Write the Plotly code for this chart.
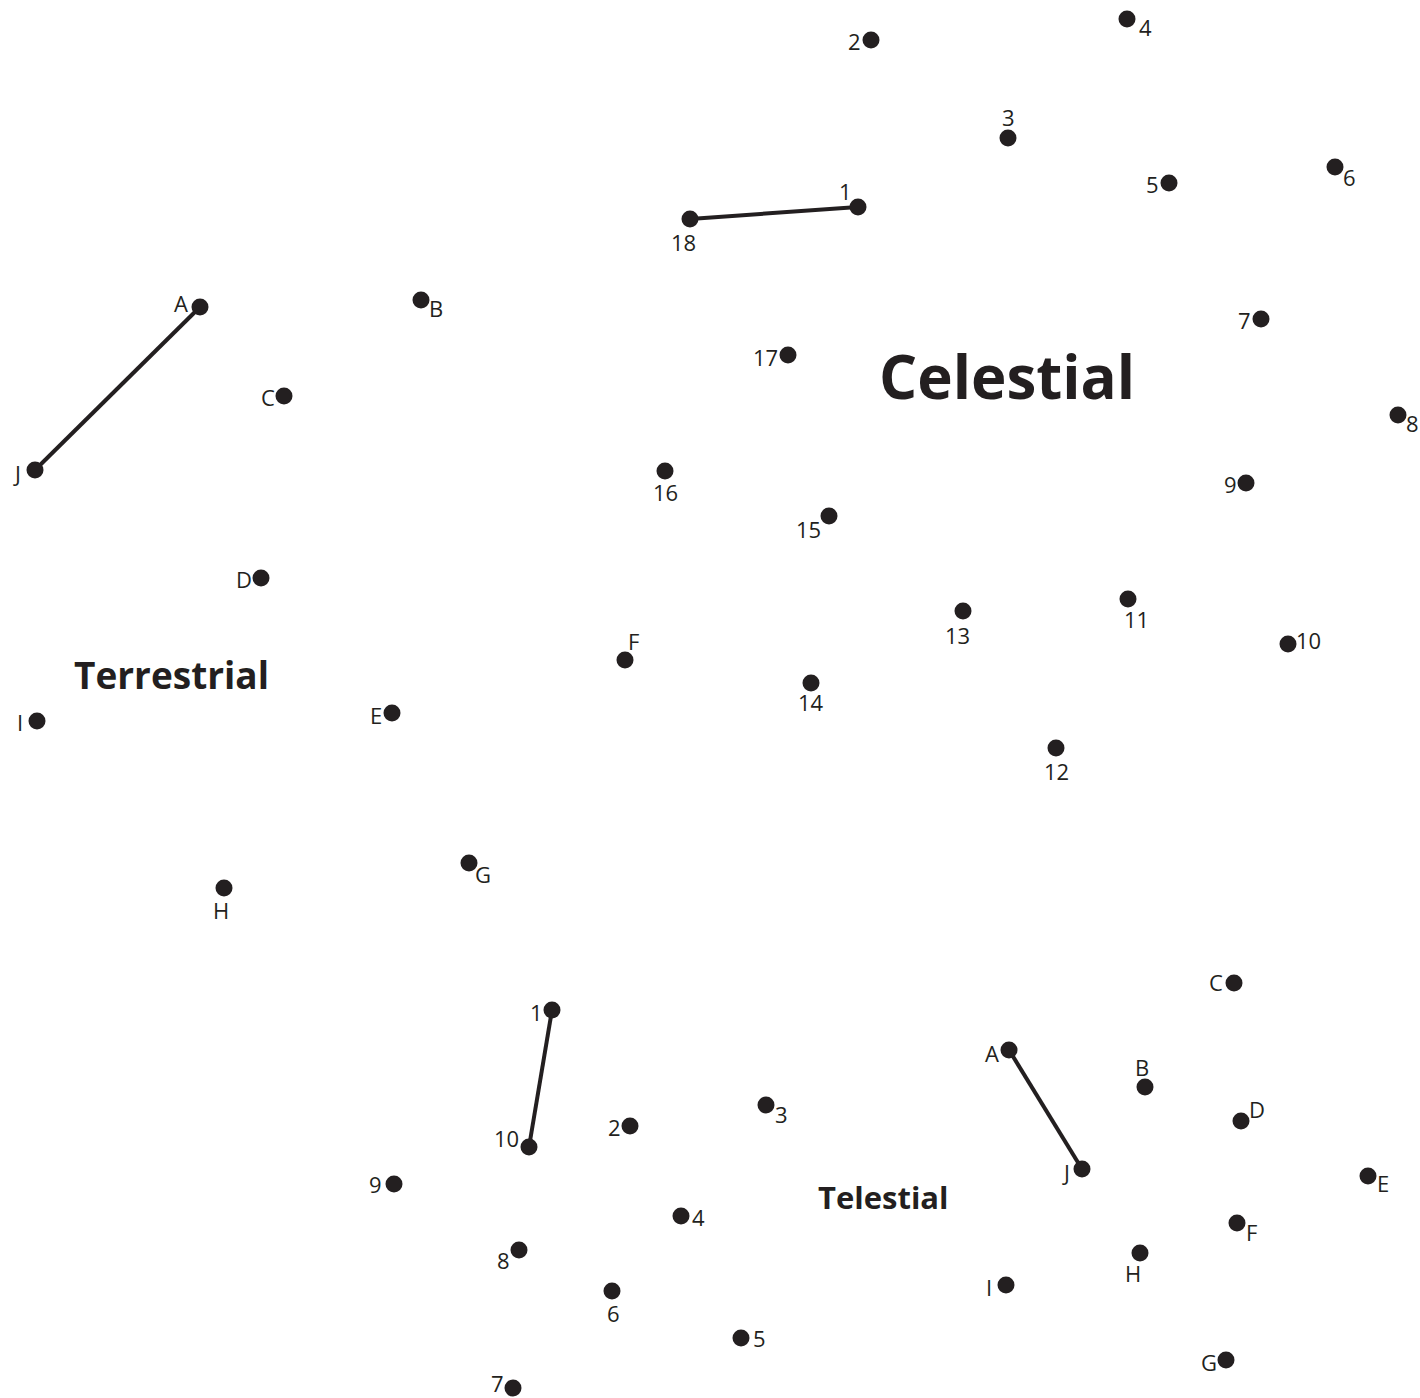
import plotly.graph_objects as go

INK = "#231f20"
FONT = "Open Sans"

# Celestial (numbered dots 1..18)
cel_labels = [str(i) for i in range(1, 19)]
cel_x = [858, 871, 1008, 1127, 1169, 1335, 1261, 1398, 1246, 1288, 1128, 1056, 963, 811, 829, 665, 788, 690]
cel_y = [207, 40, 138, 19, 183, 167, 319, 415, 483, 644, 599, 748, 611, 683, 516, 471, 355, 219]
cel_dx = [-13, -17, 0, 18, -17, 14, -17, 14, -16, 20, 8, 0, -6, 0, -21, 0, -23, -7]
cel_dy = [-16, 1, -21, 8, 1, 10, 1, 8, 1, -4, 20, 23, 24, 19, 13, 21, 2, 23]

# Terrestrial (lettered dots A..J)
ter_labels = list("ABCDEFGHIJ")
ter_x = [200, 421, 284, 261, 392, 625, 469, 224, 37, 35]
ter_y = [307, 300, 396, 578, 713, 660, 863, 888, 721, 470]
ter_dx = [-19, 15, -16, -17, -16, 8, 14, -3, -17, -18]
ter_dy = [-4, 8, 1, 1, 2, -19, 11, 22, 1, 3]

# Telestial numbered dots 1..10
tn_labels = [str(i) for i in range(1, 11)]
tn_x = [552, 630, 766, 681, 741, 612, 513, 519, 394, 529]
tn_y = [1010, 1126, 1105, 1216, 1338, 1291, 1388, 1250, 1184, 1147]
tn_dx = [-16, -16, 15, 17, 18, 1, -16, -16, -19, -23]
tn_dy = [2, 1, 9, 1, 0, 22, -5, 10, 0, -9]

# Telestial lettered dots A..J
tl_labels = list("ABCDEFGHIJ")
tl_x = [1009, 1145, 1234, 1241, 1368, 1237, 1226, 1140, 1006, 1082]
tl_y = [1050, 1087, 983, 1121, 1176, 1223, 1360, 1253, 1285, 1169]
tl_dx = [-17, -3, -18, 16, 15, 14, -17, -7, -17, -16]
tl_dy = [3, -20, -1, -12, 7, 9, 2, 20, 2, 3]

# Connected segments (index pairs within each group)
segments = [
    (cel_x, cel_y, 17, 0),
    (ter_x, ter_y, 0, 9),
    (tn_x, tn_y, 0, 9),
    (tl_x, tl_y, 0, 9),
]

titles = ["Celestial", "Terrestrial", "Telestial"]
title_x = [1007, 171, 883]
title_y = [376, 674, 1197]
title_size = [60, 37, 31]

fig = go.Figure()

for xs, ys, i, j in segments:
    fig.add_trace(go.Scatter(x=[xs[i], xs[j]], y=[ys[i], ys[j]], mode="lines",
                             line=dict(color=INK, width=4), hoverinfo="skip",
                             showlegend=False))

groups = [
    (cel_x, cel_y, cel_labels, cel_dx, cel_dy),
    (ter_x, ter_y, ter_labels, ter_dx, ter_dy),
    (tn_x, tn_y, tn_labels, tn_dx, tn_dy),
    (tl_x, tl_y, tl_labels, tl_dx, tl_dy),
]

annotations = []
for xs, ys, labs, dxs, dys in groups:
    fig.add_trace(go.Scatter(x=xs, y=ys, mode="markers",
                             marker=dict(color=INK, size=17, line=dict(width=0)),
                             text=labs, hoverinfo="text", showlegend=False,
                             cliponaxis=False))
    for x, y, t, dx, dy in zip(xs, ys, labs, dxs, dys):
        annotations.append(dict(x=x, y=y, text=t, showarrow=False,
                                xshift=dx, yshift=-dy,
                                font=dict(family=FONT, size=22, color=INK),
                                xanchor="center", yanchor="middle"))

for t, x, y, s in zip(titles, title_x, title_y, title_size):
    annotations.append(dict(x=x, y=y, text="<b>" + t + "</b>", showarrow=False,
                            font=dict(family=FONT, size=s, color=INK),
                            xanchor="center", yanchor="middle"))

fig.update_layout(
    width=1420, height=1398,
    margin=dict(l=0, r=0, t=0, b=0),
    paper_bgcolor="white", plot_bgcolor="white",
    xaxis=dict(range=[0, 1420], visible=False, fixedrange=True),
    yaxis=dict(range=[1398, 0], visible=False, fixedrange=True),
    annotations=annotations,
)

fig.write_html(
    "out.html",
    config={"displayModeBar": False},
    post_script="document.body.style.margin='0';document.body.style.overflow='hidden';",
)
